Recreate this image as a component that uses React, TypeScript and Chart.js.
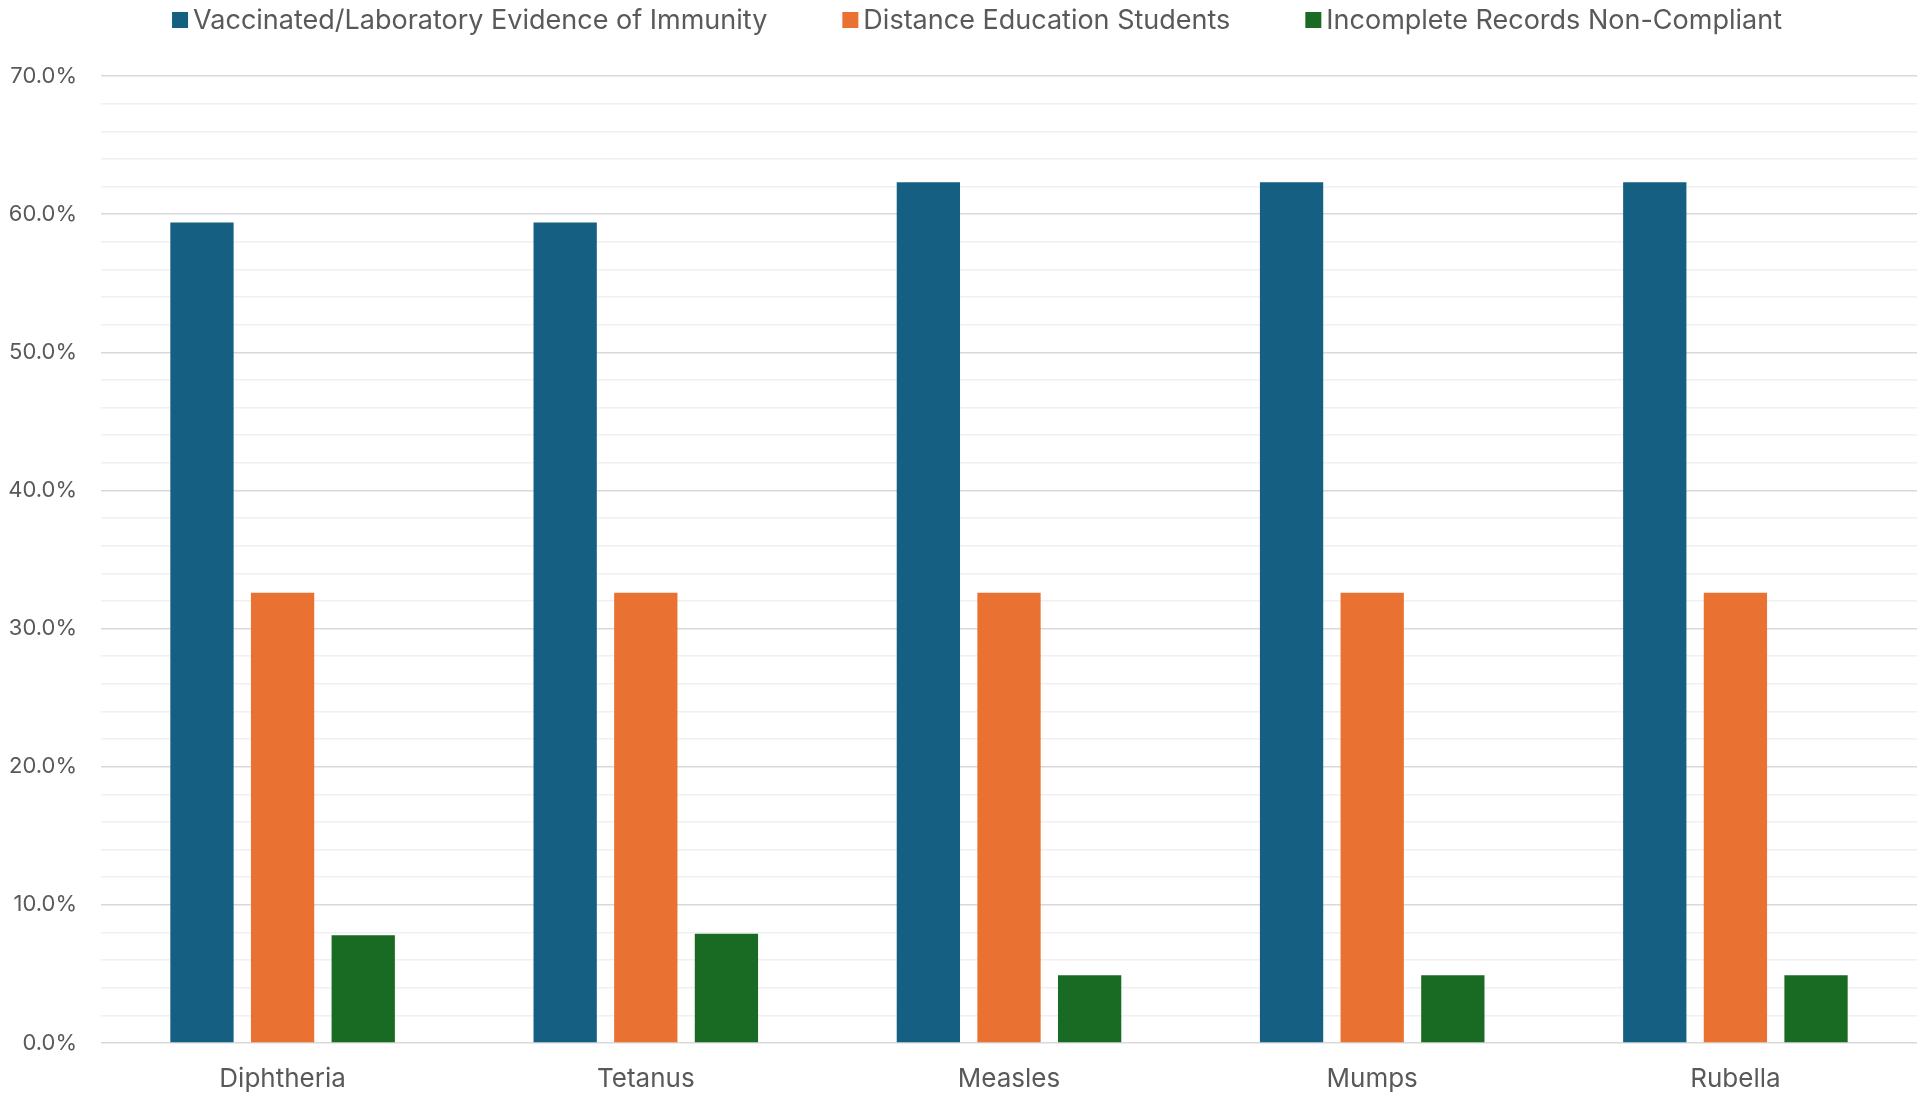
import React, { useEffect, useRef } from "react";
import { Chart, registerables } from "chart.js";

Chart.register(...registerables);

const categories = ["Diphtheria", "Tetanus", "Measles", "Mumps", "Rubella"];
const vaccinated = [59.4, 59.4, 62.3, 62.3, 62.3];
const distanceEd = [32.6, 32.6, 32.6, 32.6, 32.6];
const incomplete = [7.8, 7.9, 4.9, 4.9, 4.9];
const seriesNames = [
  "Vaccinated/Laboratory Evidence of Immunity",
  "Distance Education Students",
  "Incomplete Records Non-Compliant",
];
const seriesColors = ["#156082", "#E97132", "#196B24"];
const yMax = 70;
const yStep = 2;
const yLabelStep = 10;

const FONT = "Inter, 'Liberation Sans', Arial, sans-serif";
const TEXT = "#595959";

const legendPlugin = {
  id: "customLegend",
  afterDraw(chart: any) {
    const ctx = chart.ctx;
    const fontSize = 27;
    const box = 16;
    const gapBoxText = 5;
    const gapItems = 75;
    ctx.save();
    ctx.font = `${fontSize}px ${FONT}`;
    ctx.textBaseline = "middle";
    ctx.textAlign = "left";
    const items = chart.data.datasets.map((d: any) => ({
      text: d.label,
      color: d.backgroundColor,
      w: ctx.measureText(d.label).width,
    }));
    const total =
      items.reduce((s: number, it: any) => s + box + gapBoxText + it.w, 0) +
      gapItems * (items.length - 1);
    let x = chart.width / 2 + 13 - total / 2;
    const y = 20;
    items.forEach((it: any) => {
      ctx.fillStyle = it.color;
      ctx.fillRect(x, y - box / 2, box, box);
      x += box + gapBoxText;
      ctx.fillStyle = TEXT;
      ctx.fillText(it.text, x, y + 1);
      x += it.w + gapItems;
    });
    ctx.restore();
  },
};

export default function App() {
  const ref = useRef<HTMLCanvasElement | null>(null);
  useEffect(() => {
    if (!ref.current) return;
    const chart = new Chart(ref.current, {
      type: "bar",
      data: {
        labels: categories,
        datasets: [
          { label: seriesNames[0], data: vaccinated, backgroundColor: seriesColors[0] },
          { label: seriesNames[1], data: distanceEd, backgroundColor: seriesColors[1] },
          { label: seriesNames[2], data: incomplete, backgroundColor: seriesColors[2] },
        ],
      },
      options: {
        animation: false,
        responsive: true,
        maintainAspectRatio: false,
        layout: { padding: { top: 76, right: 11, left: 0, bottom: 0 } },
        datasets: {
          bar: { categoryPercentage: 0.666, barPercentage: 0.785 },
        },
        plugins: {
          legend: { display: false },
          tooltip: { enabled: false },
        },
        scales: {
          x: {
            grid: { display: false, drawTicks: false },
            border: { display: false },
            ticks: {
              color: TEXT,
              font: { family: FONT, size: 26 },
              padding: 21,
            },
            afterFit(scale: any) {
              scale.height = 51;
            },
          },
          y: {
            min: 0,
            max: yMax,
            border: { display: false },
            grid: {
              drawTicks: false,
              color: (c: any) =>
                c.tick && c.tick.value % yLabelStep === 0 ? "#D9D9D9" : "#F0F0F0",
              lineWidth: 1.5,
            },
            ticks: {
              stepSize: yStep,
              autoSkip: false,
              maxTicksLimit: 100,
              color: TEXT,
              font: { family: FONT, size: 22 },
              padding: 24,
              callback: (v: any) =>
                Number(v) % yLabelStep === 0 ? Number(v).toFixed(1) + "%" : "",
            },
            afterFit(scale: any) {
              scale.width = 101;
            },
          },
        },
      },
      plugins: [legendPlugin],
    });
    return () => chart.destroy();
  }, []);
  return (
    <div style={{ position: "fixed", left: 0, top: 0, width: 1928, height: 1094, background: "#fff" }}>
      <canvas ref={ref} />
    </div>
  );
}
